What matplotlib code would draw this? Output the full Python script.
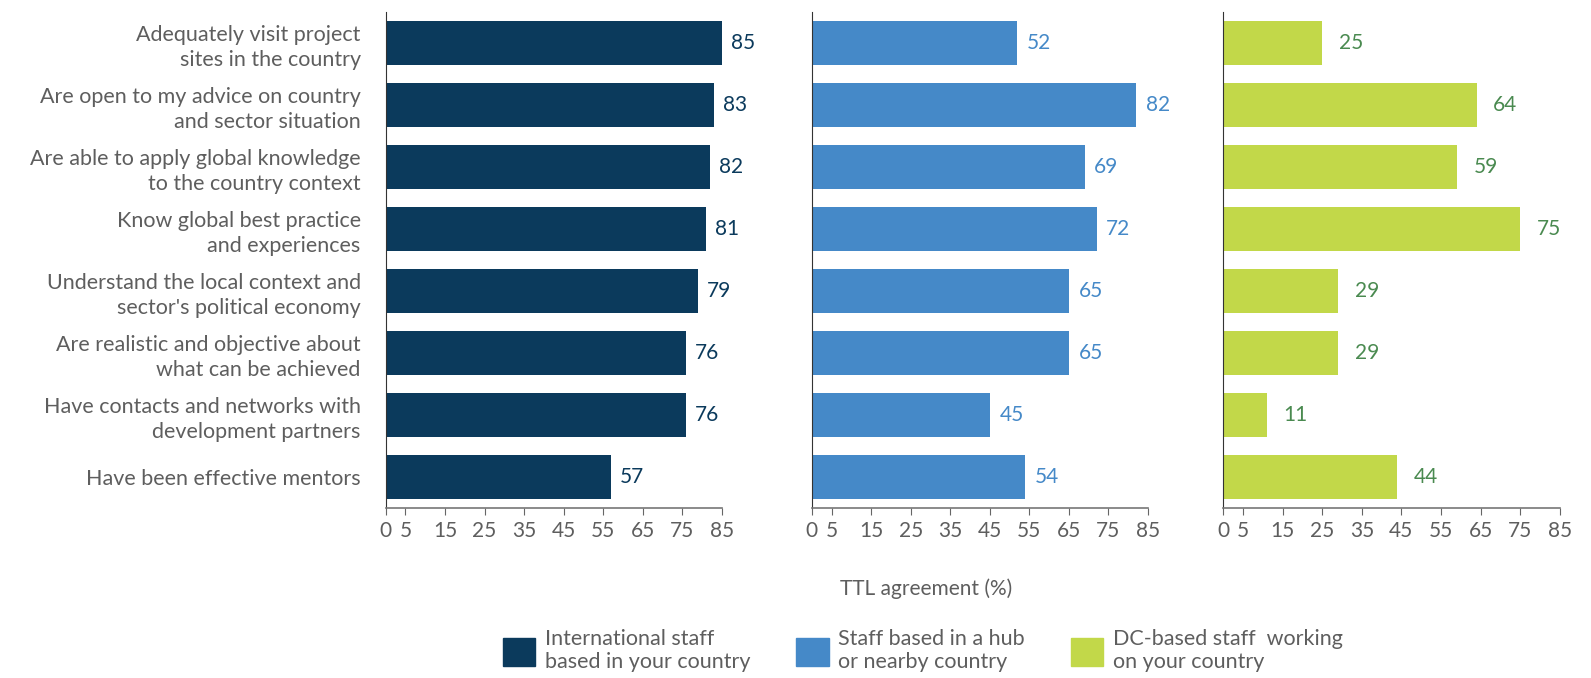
import matplotlib
matplotlib.use("Agg")
import matplotlib.pyplot as plt
from matplotlib.patches import Patch

plt.rcParams['font.family'] = ['Lato', 'DejaVu Sans']

# data
categories = [
    "Adequately visit project\nsites in the country",
    "Are open to my advice on country\nand sector situation",
    "Are able to apply global knowledge\nto the country context",
    "Know global best practice\nand experiences",
    "Understand the local context and\nsector's political economy",
    "Are realistic and objective about\nwhat can be achieved",
    "Have contacts and networks with\ndevelopment partners",
    "Have been effective mentors",
]
international = [85, 83, 82, 81, 79, 76, 76, 57]
hub = [52, 82, 69, 72, 65, 65, 45, 54]
dc_based = [25, 64, 59, 75, 29, 29, 11, 44]
series_names = ["International staff\nbased in your country",
                "Staff based in a hub\nor nearby country",
                "DC-based staff  working\non your country"]
ticks = [0, 5, 15, 25, 35, 45, 55, 65, 75, 85]

bar_colors = ['#0b3a5c', '#4589c8', '#c2d849']
label_colors = ['#0b3a5c', '#4589c8', '#4a8a50']
label_pads = [2.2, 2.4, 4.2]
text_gray = '#5e5e5e'

fig = plt.figure(figsize=(15.91, 6.78), dpi=100)
lefts = [0.2424, 0.5102, 0.7689]
width = 0.2114
bottom, height = 0.2507, 0.7316

all_series = [international, hub, dc_based]
for i, vals in enumerate(all_series):
    ax = fig.add_axes([lefts[i], bottom, width, height])
    y = range(len(categories))
    ax.barh(y, vals, height=0.72, color=bar_colors[i])
    for yy, v in zip(y, vals):
        ax.text(v + label_pads[i], yy, str(v), va='center', ha='left',
                fontsize=15, color=label_colors[i])
    ax.set_xlim(0, 85)
    ax.set_ylim(7.5, -0.5)
    ax.set_xticks(ticks)
    ax.set_xticklabels([str(t) for t in ticks], fontsize=15, color=text_gray)
    ax.tick_params(axis='x', length=5, color='#666666', pad=4)
    ax.tick_params(axis='y', length=0)
    for s in ['top', 'right']:
        ax.spines[s].set_visible(False)
    ax.spines['left'].set_color('#333333')
    ax.spines['bottom'].set_color('#777777')
    ax.spines['bottom'].set_linewidth(1.2)
    if i == 0:
        ax.set_yticks(list(y))
        ax.set_yticklabels(categories, fontsize=15.5, color=text_gray,
                           linespacing=1.3)
        ax.tick_params(axis='y', pad=18)
    else:
        ax.set_yticks([])

fig.text(0.582, 0.132, "TTL agreement (%)", ha='center', va='center',
         fontsize=15, color=text_gray)

handles = [Patch(color=c) for c in bar_colors]
fig.legend(handles, series_names, loc='center', bbox_to_anchor=(0.580, 0.040),
           ncol=3, frameon=False, fontsize=15.5, handlelength=1.5, handleheight=1.6,
           handletextpad=0.45, columnspacing=2.15, labelcolor=text_gray)

fig.savefig("out.png", dpi=100)
